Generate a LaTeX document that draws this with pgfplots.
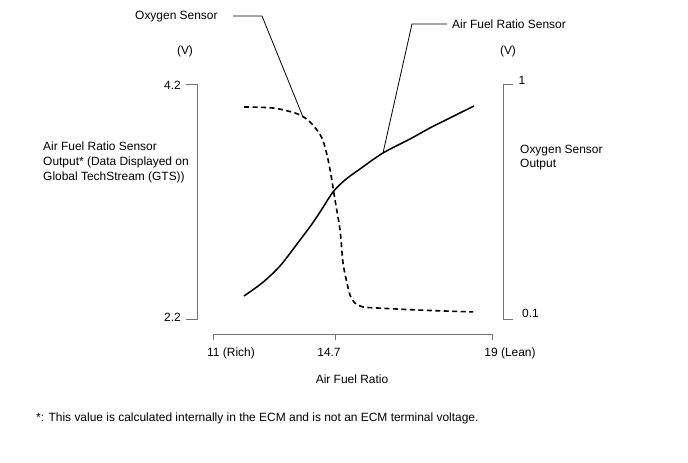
\documentclass[border=0pt]{standalone}
\usepackage{pgfplots}
\pgfplotsset{compat=1.18}
\usepackage{fontspec}
\setmainfont{Liberation Sans}
\begin{document}
\fontsize{12}{14}\selectfont
\begin{tikzpicture}[x=1bp,y=1bp]
\useasboundingbox (0,0) rectangle (688,463);
\begin{axis}[at={(213bp,144bp)}, anchor=south west, scale only axis,
  width=279bp, height=235bp, xmin=11, xmax=19, ymin=2.2, ymax=4.2,
  hide axis, clip=false]
  % Air Fuel Ratio Sensor output (V)
  \addplot[black, line width=1.5bp, smooth, tension=0.5] coordinates {
    (11.889,2.396) (12.405,2.506) (12.921,2.651) (13.495,2.872)
    (13.839,3.009) (14.125,3.136) (14.441,3.281) (14.785,3.383)
    (15.215,3.477) (15.875,3.613) (16.649,3.732) (17.222,3.826)
    (17.796,3.911) (18.484,4.013)};
  % bracket axes
  \draw[black!55, line width=0.9bp] (axis cs:10.226,4.2) -- (axis cs:10.541,4.2) -- (axis cs:10.541,2.2) -- (axis cs:10.226,2.2);
  \draw[black!55, line width=0.9bp] (axis cs:19.602,4.2) -- (axis cs:19.315,4.2) -- (axis cs:19.315,2.2) -- (axis cs:19.602,2.2);
  \draw[black!55, line width=0.9bp] (axis cs:11,2.021) -- (axis cs:11,2.072) -- (axis cs:19,2.072) -- (axis cs:19,2.021);
  \draw[black!55, line width=0.9bp] (axis cs:14.498,2.072) -- (axis cs:14.498,2.021);
\end{axis}
\begin{axis}[at={(213bp,144bp)}, anchor=south west, scale only axis,
  width=279bp, height=235bp, xmin=11, xmax=19, ymin=0.1, ymax=1,
  hide axis, clip=false]
  % Oxygen Sensor output (V)
  \addplot[black, line width=1.6bp, smooth, tension=0.5, dash pattern=on 5bp off 3.5bp] coordinates {
    (11.889,0.912) (12.720,0.908) (13.351,0.889) (13.638,0.870)
    (13.867,0.843) (14.125,0.793) (14.269,0.728) (14.384,0.651)
    (14.498,0.556) (14.642,0.441) (14.728,0.314) (14.842,0.238)
    (14.928,0.192) (15.072,0.161) (15.301,0.146) (15.731,0.142)
    (16.935,0.134) (18.455,0.127)};
\end{axis}
% leader lines and labels
\draw[black, line width=0.8bp] (233,447) -- (262,447) -- (303,346);
\node[anchor=west, inner sep=0] at (135,446) {Oxygen Sensor};
\draw[black, line width=0.8bp] (447,439) -- (412,439) -- (383,310);
\node[anchor=west, inner sep=0] at (452,439) {Air Fuel Ratio Sensor};
\node[inner sep=0] at (185,412) {(V)};
\node[inner sep=0] at (508,412) {(V)};
\node[anchor=east, inner sep=0] at (181,378) {4.2};
\node[anchor=east, inner sep=0] at (181,146) {2.2};
\node[inner sep=0] at (522,383) {1};
\node[anchor=west, inner sep=0] at (522,150) {0.1};
\node[anchor=base west, inner sep=0] at (43,312) {Air Fuel Ratio Sensor};
\node[anchor=base west, inner sep=0] at (43,297) {Output* (Data Displayed on};
\node[anchor=base west, inner sep=0] at (43,282) {Global TechStream (GTS))};
\node[anchor=base west, inner sep=0] at (520,309) {Oxygen Sensor};
\node[anchor=base west, inner sep=0] at (520,295) {Output};
\node[anchor=base, inner sep=0] at (231,106) {11 (Rich)};
\node[anchor=base, inner sep=0] at (329,106) {14.7};
\node[anchor=base, inner sep=0] at (510,106) {19 (Lean)};
\node[anchor=base, inner sep=0] at (352,79) {Air Fuel Ratio};
\node[anchor=base west, inner sep=0] at (36,41) {*: This value is calculated internally in the ECM and is not an ECM terminal voltage.};
\end{tikzpicture}
\end{document}
